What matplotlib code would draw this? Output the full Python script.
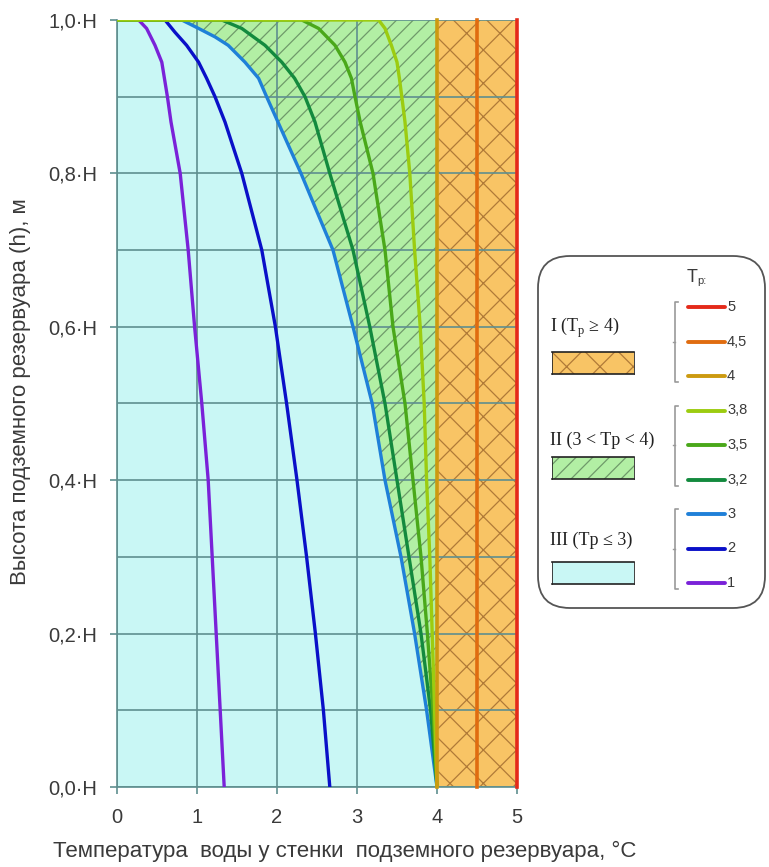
import matplotlib
matplotlib.use('Agg')
import matplotlib.pyplot as plt
from matplotlib.patches import FancyBboxPatch, Rectangle
import numpy as np

# water temperature at the wall (x) against height as a fraction of H (h), per Tp value
curve_temps = [1, 2, 3, 3.2, 3.5, 3.8]
curve_x = {
    1:   [0, 0.27, 0.37, 0.475, 0.56, 0.63, 0.675, 0.79, 0.89, 0.97, 1.06, 1.14, 1.19, 1.24, 1.29, 1.34],
    2:   [0, 0.60, 0.725, 0.87, 1.02, 1.12, 1.225, 1.35, 1.56, 1.81, 1.98, 2.12, 2.25, 2.37, 2.48, 2.58, 2.66],
    3:   [0, 0.81, 1.02, 1.225, 1.39, 1.60, 1.77, 1.87, 2.30, 2.70, 2.95, 3.19, 3.35, 3.55, 3.72, 3.87, 4.00],
    3.2: [0, 1.31, 1.56, 1.85, 2.06, 2.22, 2.35, 2.475, 2.66, 2.95, 3.16, 3.35, 3.50, 3.65, 3.80, 3.92, 4.00],
    3.5: [0, 2.31, 2.52, 2.725, 2.85, 2.93, 2.975, 3.04, 3.20, 3.35, 3.45, 3.60, 3.70, 3.80, 3.88, 3.95, 4.00],
    3.8: [0, 3.27, 3.35, 3.43, 3.50, 3.53, 3.56, 3.60, 3.66, 3.72, 3.79, 3.84, 3.87, 3.91, 3.94, 3.97, 4.00],
}
curve_h = {
    1:   [1.0, 1.0, 0.989, 0.967, 0.945, 0.9, 0.867, 0.8, 0.7, 0.6, 0.5, 0.4, 0.3, 0.2, 0.1, 0.0],
    2:   [1.0, 1.0, 0.984, 0.967, 0.945, 0.924, 0.9, 0.867, 0.8, 0.7, 0.6, 0.5, 0.4, 0.3, 0.2, 0.1, 0.0],
    3:   [1.0, 1.0, 0.989, 0.978, 0.967, 0.945, 0.924, 0.9, 0.8, 0.7, 0.6, 0.5, 0.4, 0.3, 0.2, 0.1, 0.0],
    3.2: [1.0, 1.0, 0.989, 0.967, 0.945, 0.924, 0.9, 0.867, 0.8, 0.7, 0.6, 0.5, 0.4, 0.3, 0.2, 0.1, 0.0],
    3.5: [1.0, 1.0, 0.989, 0.967, 0.945, 0.924, 0.9, 0.867, 0.8, 0.7, 0.6, 0.5, 0.4, 0.3, 0.2, 0.1, 0.0],
    3.8: [1.0, 1.0, 0.989, 0.967, 0.945, 0.924, 0.9, 0.867, 0.8, 0.7, 0.6, 0.5, 0.4, 0.3, 0.2, 0.1, 0.0],
}
vertical_temps = [4, 4.5, 5]

colors = {
    1: '#7a22d8', 2: '#0a10c8', 3: '#1f80d8', 3.2: '#138a3e', 3.5: '#4aa81a',
    3.8: '#9ccc10', 4: '#cc9a10', 4.5: '#e06c10', 5: '#e42a1a',
}
temp_labels = {1: '1', 2: '2', 3: '3', 3.2: '3,2', 3.5: '3,5', 3.8: '3,8',
               4: '4', 4.5: '4,5', 5: '5'}

xticks = [0, 1, 2, 3, 4, 5]
yticks = [0.0, 0.2, 0.4, 0.6, 0.8, 1.0]
ytick_labels = ['0,0·H', '0,2·H', '0,4·H', '0,6·H', '0,8·H', '1,0·H']

zone_labels = ['I (T$_{\\mathrm{р}}$ ≥ 4)', 'II (3 < Tр < 4)', 'III (Tр ≤ 3)']
zone_groups = [[5, 4.5, 4], [3.8, 3.5, 3.2], [3, 2, 1]]

cyan = '#c9f7f5'
green = '#b2efa4'
orange = '#f8c465'
grid_c = '#5f8f8f'
text_c = '#3a3a3a'

plt.rcParams['font.family'] = ['Liberation Sans', 'DejaVu Sans']
plt.rcParams['mathtext.fontset'] = 'custom'
plt.rcParams['mathtext.rm'] = 'Liberation Serif'
plt.rcParams['hatch.linewidth'] = 0.9

fig = plt.figure(figsize=(7.69, 8.67), dpi=100)
ax = fig.add_axes([117/769, 80/867, 400/769, 767/867])

h3 = np.array(curve_h[3])
x3 = np.array(curve_x[3])
# zone III (cyan), zone II (green hatch), zone I (orange cross hatch)
ax.fill_betweenx(h3, 0, x3, color=cyan, lw=0, zorder=0)
ax.fill_betweenx(h3, x3, vertical_temps[0], facecolor=green, edgecolor='#6f9a6a',
                 hatch='//', lw=0, zorder=0)
ax.axvspan(vertical_temps[0], vertical_temps[-1], facecolor=orange, edgecolor='#b07a38',
           hatch='x', lw=0, zorder=0)

ax.set_xlim(0, 5)
ax.set_ylim(0, 1)
ax.set_xticks(xticks)
ax.set_yticks(yticks)
ax.set_yticklabels(ytick_labels)
ax.set_yticks(np.arange(0.1, 1.0, 0.2), minor=True)
ax.grid(True, which='major', color=grid_c, lw=1.2, zorder=1)
ax.grid(True, which='minor', axis='y', color=grid_c, lw=1.2, zorder=1)
ax.set_axisbelow(False)
ax.tick_params(which='minor', length=0)
ax.tick_params(which='major', color=grid_c, length=5, width=1.2, labelsize=14.5,
               labelcolor=text_c)
ax.tick_params(axis='x', pad=10)
ax.tick_params(axis='y', pad=9)
for s in ['top', 'right']:
    ax.spines[s].set_visible(False)
for s in ['left', 'bottom']:
    ax.spines[s].set_color(grid_c)
    ax.spines[s].set_linewidth(1.2)

for t in curve_temps:
    ax.plot(curve_x[t], curve_h[t], color=colors[t], lw=2.4, zorder=3,
            solid_joinstyle='round', solid_capstyle='round')
for t in vertical_temps:
    ax.axvline(t, color=colors[t], lw=2.6, zorder=3, clip_on=False)

fig.text(21/769, 1 - 392/867, 'Высота подземного резервуара (h), м', rotation=90,
         ha='center', va='center', fontsize=16, color=text_c)
fig.text(345/769, 1 - 851/867, 'Температура  воды у стенки  подземного резервуара, °C',
         ha='center', va='center', fontsize=16, color=text_c)

# legend panel drawn in pixel coordinates
lax = fig.add_axes([0, 0, 1, 1], facecolor='none')
lax.set_xlim(0, 769)
lax.set_ylim(867, 0)
lax.axis('off')
lax.add_patch(FancyBboxPatch((538, 256), 227, 352,
                             boxstyle='round,pad=0,rounding_size=32',
                             fc='white', ec='#555555', lw=1.3))
lax.text(687, 277, 'T', fontsize=13, ha='left', va='center', color=text_c)
lax.text(697, 281, 'р:', fontsize=8, ha='left', va='center', color=text_c)

zone_styles = [dict(fc=orange, ec='#b07a38', hatch='x'),
               dict(fc=green, ec='#6f9a6a', hatch='//'),
               dict(fc=cyan, ec='#333333', hatch=None)]
zone_text_y = [328, 440, 540]
zone_box_y = [352, 457, 562]
for lbl, ty, by, st in zip(zone_labels, zone_text_y, zone_box_y, zone_styles):
    lax.text(550, ty, lbl, fontsize=13, family='Liberation Serif', ha='left',
             va='center', color='#222222')
    lax.add_patch(Rectangle((552, by), 82, 22, fc=st['fc'], ec=st['ec'],
                            hatch=st['hatch'], lw=0))
    lax.plot([552, 634], [by, by], color='#222222', lw=1.2)
    lax.plot([552, 634], [by + 22, by + 22], color='#222222', lw=1.2)
    lax.plot([552, 552], [by, by + 22], color='#222222', lw=0.6)
    lax.plot([634, 634], [by, by + 22], color='#222222', lw=0.6)

row = 0
for group in zone_groups:
    y0 = 307 + row * 34.5
    y1 = 307 + (row + len(group) - 1) * 34.5
    lax.plot([678, 675, 675, 678], [y0 - 5, y0 - 5, y1 + 6, y1 + 6],
             color='#999999', lw=1.2)
    lax.plot([673, 675], [(y0 + y1) / 2, (y0 + y1) / 2], color='#999999', lw=1)
    for t in group:
        y = 307 + row * 34.5
        lax.plot([688, 725], [y, y], color=colors[t], lw=2.8,
                 solid_capstyle='round')
        lax.text(727, y, temp_labels[t], fontsize=10.5, ha='left', va='center',
                 color=text_c)
        row += 1

fig.savefig('out.png', dpi=100)
